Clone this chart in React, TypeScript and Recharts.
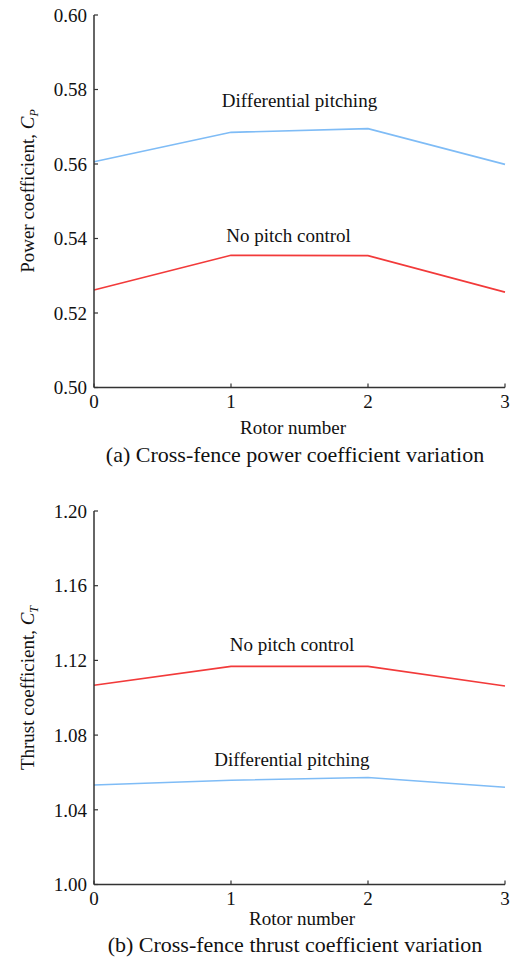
import { LineChart, Line, XAxis, YAxis, ReferenceDot } from 'recharts';

const FONT = "'Liberation Serif', 'Times New Roman', Times, serif";
const RED = '#f23a3a';
const BLUE = '#7fbcf6';
const AXIS = '#333';

// rotor positions along the fence
const rotors = [0, 1, 2, 3];
const xTicks = [0, 1, 2, 3];

// (a) power coefficient
const cpNoPitch = [0.5262, 0.5355, 0.5354, 0.5256];
const cpDiffPitch = [0.5606, 0.5685, 0.5695, 0.5599];
const cpTicks = [0.5, 0.52, 0.54, 0.56, 0.58, 0.6];

// (b) thrust coefficient
const ctNoPitch = [1.1067, 1.1168, 1.1168, 1.1063];
const ctDiffPitch = [1.0533, 1.0558, 1.0573, 1.0521];
const ctTicks = [1.0, 1.04, 1.08, 1.12, 1.16, 1.2];

const cpData = rotors.map((r, i) => ({ rotor: r, noPitch: cpNoPitch[i], diffPitch: cpDiffPitch[i] }));
const ctData = rotors.map((r, i) => ({ rotor: r, noPitch: ctNoPitch[i], diffPitch: ctDiffPitch[i] }));

function YTitle({ tx, ty, main, sub }: any) {
  return (
    <text
      transform={`translate(${tx},${ty}) rotate(-90)`}
      textAnchor="middle"
      fontFamily={FONT}
      fontSize={19}
      fill="#111"
    >
      {main}
      <tspan fontStyle="italic">C</tspan>
      <tspan fontStyle="italic" fontSize={12} dy={4}>{sub}</tspan>
    </text>
  );
}

function XTitle({ rx, ry, cx, cy, caption }: any) {
  return (
    <g fontFamily={FONT} fill="#111">
      <text x={rx} y={ry} textAnchor="middle" fontSize={19}>Rotor number</text>
      <text x={cx} y={cy} textAnchor="middle" fontSize={22}>{caption}</text>
    </g>
  );
}

interface PanelProps {
  data: { rotor: number; noPitch: number; diffPitch: number }[];
  ticks: number[];
  height: number;
  margin: { top: number; right: number; bottom: number; left: number };
  yTitle: any;
  xTitle: any;
  notes: { x: number; y: number; text: string }[];
}

function Panel({ data, ticks, height, margin, yTitle, xTitle, notes }: PanelProps) {
  const tickStyle = { fill: '#111', fontSize: 19, fontFamily: FONT };
  return (
    <LineChart width={518} height={height} data={data} margin={margin}>
      <XAxis
        type="number"
        dataKey="rotor"
        domain={[0, 3]}
        ticks={xTicks}
        interval={0}
        height={30}
        tickSize={-4}
        tickMargin={11}
        tick={tickStyle}
        axisLine={{ stroke: AXIS, strokeWidth: 1.5 }}
        tickLine={{ stroke: AXIS, strokeWidth: 1.2 }}
        label={xTitle}
      />
      <YAxis
        type="number"
        domain={[ticks[0], ticks[ticks.length - 1]]}
        ticks={ticks}
        interval={0}
        width={94}
        tickSize={-4}
        tickMargin={11}
        tick={tickStyle}
        tickFormatter={(v: number) => v.toFixed(2)}
        axisLine={{ stroke: AXIS, strokeWidth: 1.5 }}
        tickLine={{ stroke: AXIS, strokeWidth: 1.2 }}
        label={yTitle}
      />
      <Line type="linear" dataKey="diffPitch" stroke={BLUE} strokeWidth={1.6} dot={false} isAnimationActive={false} />
      <Line type="linear" dataKey="noPitch" stroke={RED} strokeWidth={1.6} dot={false} isAnimationActive={false} />
      {notes.map((n) => (
        <ReferenceDot
          key={n.text}
          x={n.x}
          y={n.y}
          r={0}
          fill="none"
          stroke="none"
          label={{ value: n.text, position: 'center', fill: '#111', fontSize: 19, fontFamily: FONT }}
        />
      ))}
    </LineChart>
  );
}

export default function App() {
  return (
    <div style={{ position: 'absolute', left: 0, top: 0, width: 518, height: 962, background: '#fff' }}>
      <div style={{ position: 'absolute', left: 0, top: 0 }}>
        <Panel
          data={cpData}
          ticks={cpTicks}
          height={480}
          margin={{ top: 15, right: 13, bottom: 62.5, left: 0 }}
          yTitle={<YTitle tx={34} ty={191} main="Power coefficient, " sub="P" />}
          xTitle={<XTitle rx={293} ry={434} cx={295} cy={462} caption="(a) Cross-fence power coefficient variation" />}
          notes={[
            { x: 1.5, y: 0.577, text: 'Differential pitching' },
            { x: 1.42, y: 0.541, text: 'No pitch control' },
          ]}
        />
      </div>
      <div style={{ position: 'absolute', left: 0, top: 480 }}>
        <Panel
          data={ctData}
          ticks={ctTicks}
          height={482}
          margin={{ top: 31, right: 13, bottom: 47.5, left: 0 }}
          yTitle={<YTitle tx={34} ty={208} main="Thrust coefficient, " sub="T" />}
          xTitle={<XTitle rx={302} ry={445} cx={295} cy={472} caption="(b) Cross-fence thrust coefficient variation" />}
          notes={[
            { x: 1.445, y: 1.1284, text: 'No pitch control' },
            { x: 1.445, y: 1.067, text: 'Differential pitching' },
          ]}
        />
      </div>
    </div>
  );
}
